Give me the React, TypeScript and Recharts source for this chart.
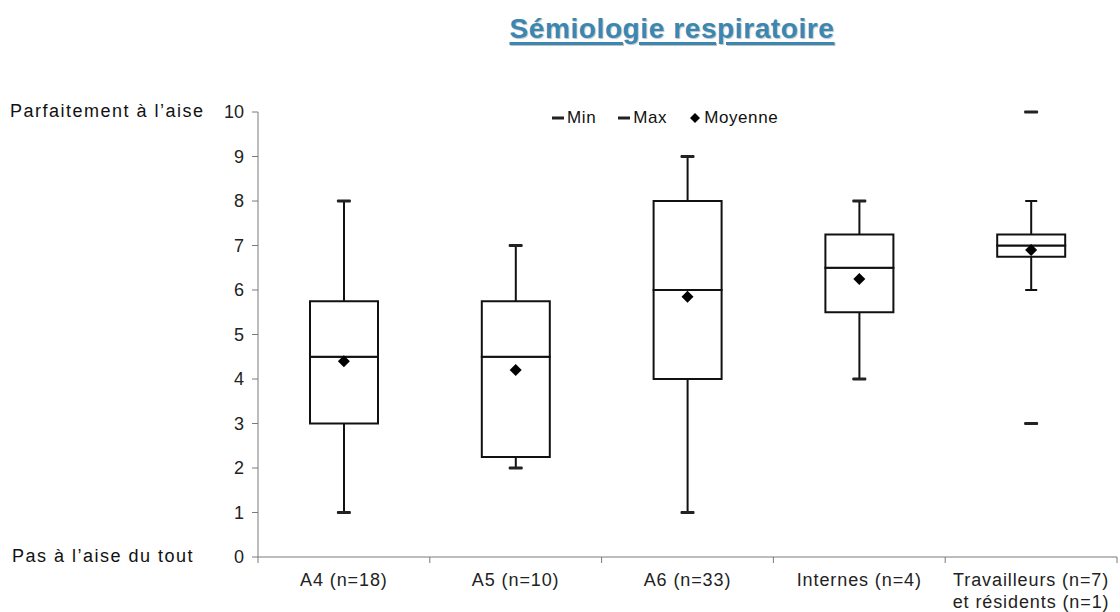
import {
  ComposedChart,
  Bar,
  Scatter,
  XAxis,
  YAxis,
} from "recharts";

const categories = [
  "A4 (n=18)",
  "A5 (n=10)",
  "A6 (n=33)",
  "Internes (n=4)",
  "Travailleurs (n=7)\net résidents (n=1)",
];
const q1 = [3, 2.25, 4, 5.5, 6.75];
const median = [4.5, 4.5, 6, 6.5, 7];
const q3 = [5.75, 5.75, 8, 7.25, 7.25];
const whiskerLow = [1, 2, 1, 4, 6];
const whiskerHigh = [8, 7, 9, 8, 8];
const minValues = [1, 2, 1, 4, 3];
const maxValues = [8, 7, 9, 8, 10];
const means = [4.4, 4.2, 5.85, 6.25, 6.9];
const yTicks = [0, 1, 2, 3, 4, 5, 6, 7, 8, 9, 10];
// category boundaries (integers) and centres (halves) on a 0..5 number axis
const bottomTicks = [0, 0.5, 1, 1.5, 2, 2.5, 3, 3.5, 4, 4.5, 5];

const FONT = "'Liberation Sans', Arial, sans-serif";
const AXIS = "#7a7a7a";

const data = categories.map((name, i) => ({
  name,
  slot: i + 0.5,
  base: q1[i],
  lower: median[i] - q1[i],
  upper: q3[i] - median[i],
  whisker: [whiskerLow[i], whiskerHigh[i]],
  min: minValues[i],
  max: maxValues[i],
  mean: means[i],
}));

function WhiskerShape(props: any) {
  const { x, y, width, height } = props;
  const cx = x + width / 2;
  return (
    <g stroke="#111" strokeWidth={2}>
      <line x1={cx} y1={y} x2={cx} y2={y + height} />
      <line x1={cx - 6} y1={y} x2={cx + 6} y2={y} />
      <line x1={cx - 6} y1={y + height} x2={cx + 6} y2={y + height} />
    </g>
  );
}

function DashShape(props: any) {
  const { cx, cy } = props;
  return <rect x={cx - 7} y={cy - 1.5} width={14} height={3} rx={1} fill="#222" />;
}

function DiamondShape(props: any) {
  const { cx, cy } = props;
  return (
    <polygon
      points={`${cx},${cy - 6} ${cx + 6},${cy} ${cx},${cy + 6} ${cx - 6},${cy}`}
      fill="#000"
    />
  );
}

function BottomTick(props: any) {
  const { x, y, payload } = props;
  const v = payload.value as number;
  if (Number.isInteger(v)) {
    return <line x1={x} y1={y - 6} x2={x} y2={y} stroke={AXIS} strokeWidth={1} />;
  }
  const lines = categories[Math.floor(v)].split("\n");
  return (
    <text
      x={x}
      y={y}
      textAnchor="middle"
      fill="#222"
      fontSize={18}
      letterSpacing={0.9}
      fontFamily={FONT}
    >
      {lines.map((l, i) => (
        <tspan key={i} x={x} dy={i === 0 ? 23 : 22}>
          {l}
        </tspan>
      ))}
    </text>
  );
}

export default function App() {
  return (
    <div
      style={{
        position: "absolute",
        left: 0,
        top: 0,
        width: 1120,
        height: 612,
        background: "#fff",
        fontFamily: FONT,
      }}
    >
      <div
        style={{
          position: "absolute",
          left: 224,
          width: 896,
          top: 13,
          textAlign: "center",
          fontSize: 28,
          letterSpacing: 0.6,
          fontWeight: "bold",
          color: "#3b87b3",
          textDecoration: "underline",
          textDecorationThickness: 3,
          textUnderlineOffset: 4,
          textShadow: "1px 1px 1px rgba(0,0,0,0.25)",
        }}
      >
        Sémiologie respiratoire
      </div>
      <div
        style={{
          position: "absolute",
          left: 10,
          top: 101,
          fontSize: 18,
          letterSpacing: 1.5,
          color: "#111",
        }}
      >
        Parfaitement à l’aise
      </div>
      <div
        style={{
          position: "absolute",
          left: 12,
          top: 546,
          fontSize: 18,
          letterSpacing: 1.5,
          color: "#111",
        }}
      >
        Pas à l’aise du tout
      </div>
      <div
        style={{
          position: "absolute",
          left: 552,
          top: 108,
          display: "flex",
          gap: 22,
          fontSize: 17,
          letterSpacing: 0.6,
          color: "#111",
          alignItems: "center",
        }}
      >
        {[
          { label: "Min", mark: "dash" },
          { label: "Max", mark: "dash" },
          { label: "Moyenne", mark: "diamond" },
        ].map(({ label, mark }) => (
          <div key={label} style={{ display: "flex", alignItems: "center", gap: 3 }}>
            <svg width={12} height={12}>
              {mark === "dash" ? (
                <rect x={0} y={4.5} width={12} height={3} fill="#222" />
              ) : (
                <polygon points="6,1 11,6 6,11 1,6" fill="#000" />
              )}
            </svg>
            <span>{label}</span>
          </div>
        ))}
      </div>
      <div style={{ position: "absolute", left: 0, top: 0 }}>
        <ComposedChart
          width={1120}
          height={612}
          data={data}
          margin={{ top: 112, right: 3, bottom: 0, left: 204 }}
        >
          <XAxis dataKey="name" hide height={0} />
          <XAxis xAxisId="whisk" dataKey="name" hide height={0} />
          <XAxis
            xAxisId="bottom"
            type="number"
            dataKey="slot"
            domain={[0, 5]}
            allowDataOverflow
            ticks={bottomTicks}
            interval={0}
            stroke={AXIS}
            tickLine={false}
            tickSize={6}
            tickMargin={0}
            tick={<BottomTick />}
            height={55}
          />
          <YAxis
            domain={[0, 10]}
            ticks={yTicks}
            interval={0}
            stroke={AXIS}
            tickSize={6}
            tickMargin={8}
            width={54}
            tick={{ fill: "#222", fontSize: 18, fontFamily: FONT }}
          />
          <Bar
            xAxisId="whisk"
            dataKey="whisker"
            barSize={68}
            shape={<WhiskerShape />}
            isAnimationActive={false}
          />
          <Bar dataKey="base" stackId="box" barSize={68} fill="transparent" isAnimationActive={false} />
          <Bar
            dataKey="lower"
            stackId="box"
            barSize={68}
            fill="#fff"
            stroke="#111"
            strokeWidth={2}
            isAnimationActive={false}
          />
          <Bar
            dataKey="upper"
            stackId="box"
            barSize={68}
            fill="#fff"
            stroke="#111"
            strokeWidth={2}
            isAnimationActive={false}
          />
          <Scatter dataKey="min" shape={<DashShape />} isAnimationActive={false} />
          <Scatter dataKey="max" shape={<DashShape />} isAnimationActive={false} />
          <Scatter dataKey="mean" shape={<DiamondShape />} isAnimationActive={false} />
        </ComposedChart>
      </div>
    </div>
  );
}
